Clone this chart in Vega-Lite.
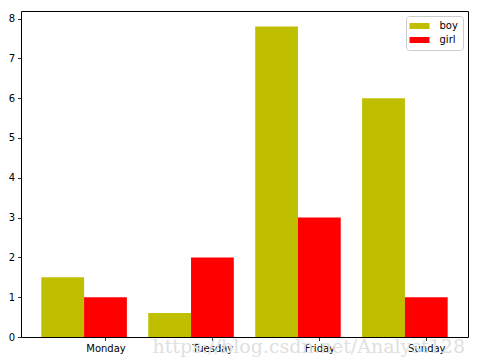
{
  "$schema": "https://vega.github.io/schema/vega-lite/v6.json",
  "width": 447,
  "height": 326,
  "autosize": {"type": "none"},
  "padding": {"left": 21, "top": 11, "right": 9, "bottom": 24},
  "background": "white",
  "config": {
    "font": "DejaVu Sans",
    "view": {"stroke": "black", "strokeWidth": 1},
    "axis": {
      "grid": false,
      "domain": false,
      "tickColor": "black",
      "tickWidth": 0.8,
      "tickSize": 3.5,
      "labelFont": "DejaVu Sans",
      "labelFontSize": 10,
      "labelColor": "black",
      "labelPadding": 3,
      "title": null
    }
  },
  "title": {
    "text": "https://blog.csdn.net/Analyst128",
    "orient": "bottom",
    "anchor": "end",
    "font": "DejaVu Serif",
    "fontSize": 19,
    "fontWeight": "normal",
    "color": "#e0e0e0",
    "offset": -16,
    "dx": -3
  },
  "data": {
    "values": [
      {"day": "Monday", "sex": "boy", "value": 1.5},
      {"day": "Tuesday", "sex": "boy", "value": 0.6},
      {"day": "Friday", "sex": "boy", "value": 7.8},
      {"day": "Sunday", "sex": "boy", "value": 6},
      {"day": "Monday", "sex": "girl", "value": 1},
      {"day": "Tuesday", "sex": "girl", "value": 2},
      {"day": "Friday", "sex": "girl", "value": 3},
      {"day": "Sunday", "sex": "girl", "value": 1}
    ]
  },
  "mark": {"type": "bar"},
  "encoding": {
    "x": {
      "field": "day",
      "type": "nominal",
      "sort": ["Monday", "Tuesday", "Friday", "Sunday"],
      "scale": {"paddingInner": 0.2, "paddingOuter": 0.19},
      "axis": {"labelAngle": 0, "tickOffset": 21.4}
    },
    "xOffset": {
      "field": "sex",
      "type": "nominal",
      "sort": ["boy", "girl"],
      "scale": {"paddingInner": 0, "paddingOuter": 0}
    },
    "y": {
      "field": "value",
      "type": "quantitative",
      "scale": {"domain": [0, 8.19], "nice": false, "zero": true},
      "axis": {"values": [0, 1, 2, 3, 4, 5, 6, 7, 8]}
    },
    "color": {
      "field": "sex",
      "type": "nominal",
      "scale": {"domain": ["boy", "girl"], "range": ["#bfbf00", "#ff0000"]},
      "legend": {
        "title": null,
        "orient": "top-right",
        "offset": 5,
        "symbolType": "M-1.3,-0.6H2.7V0.6H-1.3Z",
        "symbolSize": 100,
        "symbolStrokeWidth": 0,
        "symbolOpacity": 1,
        "labelFont": "DejaVu Sans",
        "labelFontSize": 10,
        "labelColor": "black",
        "labelOffset": 18.5,
        "rowPadding": 4,
        "padding": 5,
        "strokeColor": "#cccccc",
        "fillColor": "rgba(255,255,255,0.8)",
        "cornerRadius": 3
      }
    }
  }
}
